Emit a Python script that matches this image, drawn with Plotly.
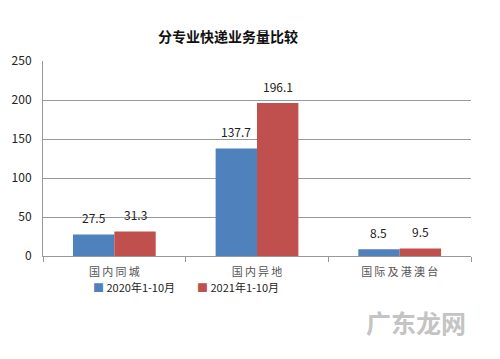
import plotly.graph_objects as go

categories = ["国内同城", "国内异地", "国际及港澳台"]
series_names = ["2020年1-10月", "2021年1-10月"]
values_2020 = [27.5, 137.7, 8.5]
values_2021 = [31.3, 196.1, 9.5]
colors = ["#4F81BD", "#C0504D"]

spaced = ["\u2009".join(c) for c in categories]

fig = go.Figure()
for name, vals, c in zip(series_names, [values_2020, values_2021], colors):
    fig.add_trace(go.Bar(
        x=spaced, y=vals, name=name, marker_color=c, marker_line_width=0,
        showlegend=False,
    ))

# data labels above bars
for vals, shift in zip([values_2020, values_2021], [-20.7, 20.7]):
    for cat, v in zip(spaced, vals):
        fig.add_annotation(x=cat, y=v, text=f"{v:.1f}", showarrow=False,
                           xshift=shift, yshift=17, yanchor="middle",
                           font=dict(size=12, color="#222", family="Noto Sans CJK SC"))

# legend entries
for i, (name, c) in enumerate(zip(series_names, colors)):
    fig.add_annotation(xref="paper", yref="paper", x=(89 - 41 + 105 * i) / 430,
                       y=(256 - 287) / 195, xanchor="left", yanchor="middle",
                       showarrow=False,
                       text=f"<span style='color:{c}'>■</span> {name}",
                       font=dict(size=11, color="#222", family="Noto Sans CJK SC"))

fig.update_layout(
    width=500, height=359,
    margin=dict(l=41, r=29, t=61, b=103),
    paper_bgcolor="white", plot_bgcolor="white",
    barmode="group", bargap=0.42, bargroupgap=0,
    title=dict(text="<b>分专业快递业务量比较</b>", x=0.456, xanchor="center",
               y=1 - 37/359, yanchor="middle",
               font=dict(size=14, color="#111", family="Noto Sans CJK SC")),
    font=dict(family="Noto Sans CJK SC"),
    showlegend=False,
    yaxis=dict(range=[0, 250], dtick=50, showgrid=True, gridcolor="#999999", gridwidth=1,
               showline=True, linecolor="#999999", ticks="", ticklabelstandoff=8,
               tickfont=dict(size=12, color="#222"), zeroline=False),
    xaxis=dict(showline=True, linecolor="#999999", ticks="outside", tickson="boundaries",
               ticklen=5, tickcolor="#999999", ticklabelstandoff=6,
               tickfont=dict(size=11, color="#555")),
)
fig.add_annotation(text="<b>广东龙网</b>", xref="paper", yref="paper",
                   x=(468-41)/430, y=(256-322)/195, xanchor="right", yanchor="middle",
                   showarrow=False, font=dict(size=25, color="#c4c4c4", family="Noto Sans CJK SC"))
fig.write_html("out.html")
